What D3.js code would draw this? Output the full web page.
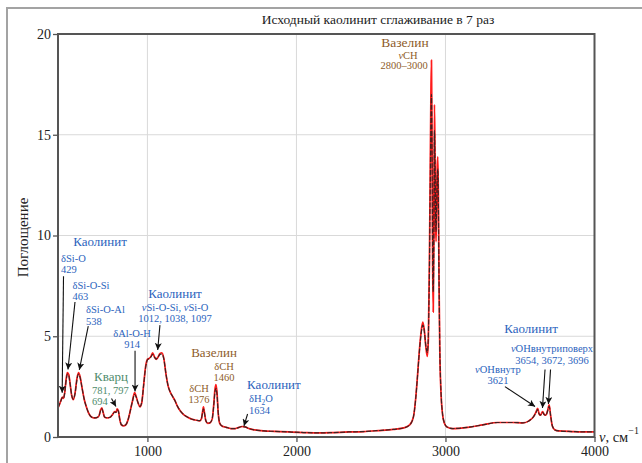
<!DOCTYPE html>
<html>
<head>
<meta charset="utf-8">
<script src="https://cdn.jsdelivr.net/npm/d3@7"></script>
<style>
  html, body { margin: 0; padding: 0; background: #fff; }
  svg { display: block; }
  text { font-family: "Liberation Serif", "DejaVu Serif", serif; }
</style>
</head>
<body>
<svg id="chart" width="642" height="463"></svg>
<script>
// IR spectrum of kaolinite: raw record and the 7-pass smoothed curve
const wavenumber = [
  400, 410, 420, 429, 437, 445, 455, 463, 472, 482, 492, 503, 515, 527, 538, 548, 560, 575, 590, 605,
  620, 640, 660, 675, 686, 694, 702, 713, 730, 750, 765, 781, 789, 797, 805, 815, 825, 840, 855, 870,
  885, 900, 914, 925, 937, 950, 962, 975, 988, 1000, 1012, 1024, 1035, 1046, 1058, 1070, 1085, 1097, 1110, 1125,
  1140, 1155, 1170, 1185, 1200, 1220, 1245, 1270, 1300, 1330, 1350, 1362, 1370, 1376, 1383, 1392, 1405, 1420, 1435, 1445,
  1453, 1460, 1467, 1475, 1485, 1500, 1530, 1560, 1590, 1615, 1634, 1655, 1680, 1720, 1780, 1850, 1950, 2050, 2150, 2250,
  2350, 2450, 2550, 2650, 2720, 2760, 2785, 2800, 2812, 2825, 2838, 2848, 2858, 2868, 2878, 2885, 2892, 2898, 2902, 2906,
  2910, 2914, 2918, 2922, 2926, 2930, 2934, 2937, 2941, 2945, 2949, 2953, 2957, 2962, 2970, 2980, 2992, 3010, 3050, 3150,
  3250, 3350, 3450, 3520, 3560, 3590, 3605, 3619, 3628, 3637, 3652, 3664, 3674, 3685, 3696, 3705, 3717, 3735, 3760, 3850,
  3950, 4000
];

const absorbanceRaw = [
  1.45, 1.62, 1.82, 1.98, 1.92, 2.2, 2.9, 3.2, 3.1, 2.6, 2.05, 1.85, 2.2, 2.9, 3.2, 3.0, 2.5, 1.9, 1.5, 1.2,
  1.02, 0.95, 0.96, 1.05, 1.35, 1.45, 1.25, 0.98, 0.95, 0.98, 1.1, 1.26, 1.22, 1.4, 1.3, 0.85, 0.6, 0.55, 0.6, 0.85,
  1.3, 1.8, 2.2, 2.0, 1.7, 1.5, 1.7, 2.6, 3.5, 3.85, 3.9, 4.0, 4.18, 4.0, 3.85, 3.95, 4.15, 4.18, 3.9, 3.1,
  2.5, 2.2, 2.0, 1.8, 1.55, 1.3, 1.1, 0.98, 0.88, 0.83, 0.8, 0.9, 1.25, 1.5, 1.2, 0.8, 0.68, 0.7, 0.9, 1.6,
  2.35, 2.6, 2.2, 1.2, 0.68, 0.55, 0.48, 0.42, 0.42, 0.48, 0.52, 0.5, 0.42, 0.35, 0.3, 0.28, 0.25, 0.22, 0.2, 0.22,
  0.25, 0.27, 0.32, 0.38, 0.45, 0.6, 1.0, 1.9, 3.0, 4.3, 5.3, 5.7, 5.3, 4.5, 4.0, 4.8, 8.5, 13.5, 16.8, 18.7,
  14.5, 8.5, 6.2, 9.5, 16.5, 14.0, 10.5, 9.7, 11.5, 13.5, 13.9, 11.5, 7.5, 4.3, 2.2, 1.15, 0.7, 0.5, 0.42, 0.48,
  0.6, 0.72, 0.72, 0.7, 0.8, 1.0, 1.2, 1.42, 1.15, 1.08, 1.26, 1.1, 1.08, 1.3, 1.6, 1.1, 0.55, 0.35, 0.3, 0.27,
  0.25, 0.25
];

const absorbanceSmoothed = [
  1.45, 1.62, 1.8, 1.95, 1.92, 2.18, 2.82, 3.12, 3.05, 2.6, 2.08, 1.88, 2.18, 2.84, 3.12, 2.96, 2.5, 1.9, 1.5, 1.2,
  1.02, 0.95, 0.96, 1.05, 1.3, 1.4, 1.24, 0.99, 0.95, 0.98, 1.1, 1.24, 1.22, 1.35, 1.28, 0.86, 0.62, 0.56, 0.61, 0.85,
  1.3, 1.78, 2.12, 1.98, 1.7, 1.52, 1.72, 2.6, 3.45, 3.82, 3.9, 3.98, 4.1, 3.98, 3.87, 3.95, 4.1, 4.12, 3.88, 3.1,
  2.5, 2.2, 2.0, 1.8, 1.55, 1.3, 1.1, 0.98, 0.88, 0.83, 0.81, 0.9, 1.2, 1.4, 1.18, 0.82, 0.69, 0.71, 0.92, 1.55,
  2.2, 2.42, 2.1, 1.22, 0.7, 0.55, 0.48, 0.42, 0.42, 0.48, 0.52, 0.5, 0.42, 0.35, 0.3, 0.28, 0.25, 0.22, 0.2, 0.22,
  0.25, 0.27, 0.32, 0.38, 0.45, 0.6, 1.0, 1.88, 2.98, 4.25, 5.2, 5.55, 5.25, 4.55, 4.2, 5.0, 8.2, 12.5, 15.5, 17.0,
  14.0, 9.0, 7.2, 9.8, 15.2, 13.6, 10.8, 10.2, 11.5, 13.0, 13.3, 11.2, 7.6, 4.4, 2.25, 1.18, 0.72, 0.5, 0.42, 0.48,
  0.6, 0.72, 0.72, 0.7, 0.8, 1.0, 1.18, 1.36, 1.15, 1.08, 1.22, 1.1, 1.08, 1.28, 1.52, 1.1, 0.56, 0.35, 0.3, 0.27,
  0.25, 0.25
];

const xTicks = [1000, 2000, 3000, 4000];
const yTicks = [0, 5, 10, 15, 20];

const chartTitle = "Исходный каолинит сглаживание в 7 раз";
const yTitle = "Поглощение";

// Band labels: x in cm⁻¹, y in absorbance units. *…* is italic, _…_ is subscript.
const bandLabels = [
  { text: "Каолинит", x: 682, y: 9.48, group: "kaolinite", size: 13, anchor: "middle" },
  { text: "δSi-O", x: 420, y: 8.67, group: "kaolinite", size: 10.5, anchor: "start" },
  { text: "429", x: 420, y: 8.12, group: "kaolinite", size: 10.5, anchor: "start" },
  { text: "δSi-O-Si", x: 497, y: 7.33, group: "kaolinite", size: 10.5, anchor: "start" },
  { text: "463", x: 497, y: 6.78, group: "kaolinite", size: 10.5, anchor: "start" },
  { text: "δSi-O-Al", x: 588, y: 6.13, group: "kaolinite", size: 10.5, anchor: "start" },
  { text: "538", x: 588, y: 5.58, group: "kaolinite", size: 10.5, anchor: "start" },

  { text: "Каолинит", x: 1185, y: 6.88, group: "kaolinite", size: 13, anchor: "middle" },
  { text: "*ν*Si-O-Si, *ν*Si-O", x: 1185, y: 6.27, group: "kaolinite", size: 10.5, anchor: "middle" },
  { text: "1012, 1038, 1097", x: 1185, y: 5.72, group: "kaolinite", size: 10.5, anchor: "middle" },
  { text: "δAl-O-H", x: 897, y: 4.97, group: "kaolinite", size: 10.5, anchor: "middle" },
  { text: "914", x: 897, y: 4.42, group: "kaolinite", size: 10.5, anchor: "middle" },

  { text: "Кварц", x: 756, y: 2.8, group: "quartz", size: 13, anchor: "middle" },
  { text: "781, 797", x: 628, y: 2.13, group: "quartz", size: 10.5, anchor: "start" },
  { text: "694", x: 628, y: 1.58, group: "quartz", size: 10.5, anchor: "start" },

  { text: "Вазелин", x: 1447, y: 3.97, group: "vaseline", size: 13, anchor: "middle" },
  { text: "δCH", x: 1514, y: 3.32, group: "vaseline", size: 10.5, anchor: "middle" },
  { text: "1460", x: 1514, y: 2.79, group: "vaseline", size: 10.5, anchor: "middle" },
  { text: "δCH", x: 1346, y: 2.25, group: "vaseline", size: 10.5, anchor: "middle" },
  { text: "1376", x: 1346, y: 1.7, group: "vaseline", size: 10.5, anchor: "middle" },

  { text: "Каолинит", x: 1849, y: 2.36, group: "kaolinite", size: 13, anchor: "middle" },
  { text: "δH_2_O", x: 1682, y: 1.72, group: "kaolinite", size: 10.5, anchor: "start" },
  { text: "1634", x: 1682, y: 1.12, group: "kaolinite", size: 10.5, anchor: "start" },

  { text: "Вазелин", x: 2728, y: 19.37, group: "vaseline", size: 13.5, anchor: "middle" },
  { text: "*ν*CH", x: 2749, y: 18.78, group: "vaseline", size: 10.5, anchor: "middle" },
  { text: "2800–3000", x: 2722, y: 18.24, group: "vaseline", size: 10.5, anchor: "middle" },

  { text: "Каолинит", x: 3574, y: 5.14, group: "kaolinite", size: 13, anchor: "middle" },
  { text: "*ν*OНвнутриповерх", x: 3715, y: 4.2, group: "kaolinite", size: 10.5, anchor: "middle" },
  { text: "3654, 3672, 3696", x: 3715, y: 3.64, group: "kaolinite", size: 10.5, anchor: "middle" },
  { text: "*ν*OНвнутр", x: 3352, y: 3.16, group: "kaolinite", size: 10.5, anchor: "middle" },
  { text: "3621", x: 3352, y: 2.61, group: "kaolinite", size: 10.5, anchor: "middle" }
];

// Pointer arrows: tail (x0, y0) to head (x1, y1), in cm⁻¹ and absorbance units
const bandArrows = [
  { x0: 437, y0: 7.98, x1: 428, y1: 2.2 },
  { x0: 514, y0: 6.7, x1: 467, y1: 3.35 },
  { x0: 603, y0: 5.5, x1: 543, y1: 3.33 },
  { x0: 917, y0: 4.28, x1: 917, y1: 2.26 },
  { x0: 1084, y0: 5.55, x1: 1069, y1: 4.32 },
  { x0: 759, y0: 1.91, x1: 789, y1: 1.51 },
  { x0: 1672, y0: 1.14, x1: 1648, y1: 0.55 },
  { x0: 3399, y0: 2.5, x1: 3601, y1: 1.51 },
  { x0: 3668, y0: 3.35, x1: 3651, y1: 1.44 },
  { x0: 3705, y0: 3.35, x1: 3691, y1: 1.64 }
];

const groupColor = { kaolinite: "#2b63bd", quartz: "#4f8c6c", vaseline: "#8e5c2a" };

const svg = d3.select("#chart");
const W = 642, H = 463;
const plot = { left: 58, right: 594.5, top: 34, bottom: 437 };

const x = d3.scaleLinear().domain([400, 4000]).range([plot.left, plot.right]);
const y = d3.scaleLinear().domain([0, 20]).range([plot.bottom, plot.top]);

// outer page frame
svg.append("line").attr("x1", 6).attr("x2", W).attr("y1", 8).attr("y2", 8)
  .attr("stroke", "#a3a3a3").attr("stroke-width", 2);
svg.append("line").attr("x1", 7).attr("x2", 7).attr("y1", 8).attr("y2", H)
  .attr("stroke", "#a3a3a3").attr("stroke-width", 2);

// title
svg.append("text").attr("x", 378).attr("y", 24).attr("text-anchor", "middle")
  .attr("font-size", 13.5).attr("fill", "#222").text(chartTitle);

// grid
const grid = svg.append("g").attr("stroke", "#d9d9d9").attr("stroke-width", 1);
grid.selectAll("line.v").data(xTicks.filter(d => d < 4000)).join("line")
  .attr("x1", d => x(d)).attr("x2", d => x(d)).attr("y1", plot.top).attr("y2", plot.bottom);
grid.selectAll("line.h").data(yTicks.filter(d => d > 0 && d < 20)).join("line")
  .attr("x1", plot.left).attr("x2", plot.right).attr("y1", d => y(d)).attr("y2", d => y(d));

// spectrum
const rows = wavenumber.map((w, i) => ({ w, raw: absorbanceRaw[i], sm: absorbanceSmoothed[i] }));
const lineRaw = d3.line().x(d => x(d.w)).y(d => y(d.raw)).curve(d3.curveMonotoneX);
const lineSm = d3.line().x(d => x(d.w)).y(d => y(d.sm)).curve(d3.curveMonotoneX);

svg.append("path").datum(rows).attr("d", lineRaw)
  .attr("fill", "none").attr("stroke", "#ff1a1a").attr("stroke-width", 1.7)
  .attr("stroke-linejoin", "round");
svg.append("path").datum(rows).attr("d", lineSm)
  .attr("fill", "none").attr("stroke", "#2e2020").attr("stroke-width", 1.2)
  .attr("stroke-dasharray", "5,1.5").attr("stroke-opacity", 0.9);

// axes
const fontAxis = 14;
const yAxis = svg.append("g").attr("transform", `translate(${plot.left},0)`)
  .call(d3.axisLeft(y).tickValues(yTicks).tickSize(5).tickPadding(2).tickFormat(d3.format("d")));
const xAxis = svg.append("g").attr("transform", `translate(0,${plot.bottom})`)
  .call(d3.axisBottom(x).tickValues(xTicks).tickSize(5).tickPadding(4).tickFormat(d3.format("d")));
[yAxis, xAxis].forEach(g => {
  g.attr("font-family", "Liberation Serif, serif");
  g.select(".domain").remove();
  g.selectAll(".tick line").attr("stroke", "#555").attr("stroke-width", 1.3);
  g.selectAll(".tick text").attr("font-size", fontAxis).attr("fill", "#222");
});

// plot frame
svg.append("rect").attr("x", plot.left).attr("y", plot.top)
  .attr("width", plot.right - plot.left).attr("height", plot.bottom - plot.top)
  .attr("fill", "none").attr("stroke", "#555").attr("stroke-width", 2);

// axis titles
svg.append("text").attr("transform", `translate(28,${(plot.top + plot.bottom) / 2 + 2}) rotate(-90)`)
  .attr("text-anchor", "middle").attr("font-size", 15).attr("fill", "#222").text(yTitle);

const xt = svg.append("text").attr("x", 599).attr("y", 441.5).attr("font-size", 14.5).attr("fill", "#222");
xt.append("tspan").attr("font-style", "italic").text("ν");
xt.append("tspan").text(", см");
xt.append("tspan").attr("dy", -8).attr("font-size", 10).text("−1");

// arrows
const defs = svg.append("defs");
defs.append("marker").attr("id", "head").attr("viewBox", "0 0 10 10")
  .attr("refX", 10).attr("refY", 5).attr("markerWidth", 7).attr("markerHeight", 7)
  .attr("markerUnits", "userSpaceOnUse").attr("orient", "auto")
  .append("path").attr("d", "M0,0 L10,5 L0,10 L2.5,5 Z").attr("fill", "#111");

svg.append("g").selectAll("line").data(bandArrows).join("line")
  .attr("x1", d => x(d.x0)).attr("y1", d => y(d.y0))
  .attr("x2", d => x(d.x1)).attr("y2", d => y(d.y1))
  .attr("stroke", "#111").attr("stroke-width", 1.1).attr("marker-end", "url(#head)");

// band labels with italic / subscript runs
function addRuns(sel, str, size) {
  const parts = str.split(/(\*[^*]+\*|_[^_]+_)/).filter(s => s.length);
  let shifted = false;
  parts.forEach(p => {
    const t = sel.append("tspan");
    if (shifted) { t.attr("dy", -2.5); shifted = false; }
    if (p.startsWith("*")) {
      t.attr("font-style", "italic").text(p.slice(1, -1));
    } else if (p.startsWith("_")) {
      t.attr("font-size", size * 0.7).attr("dy", 2.5).text(p.slice(1, -1));
      shifted = true;
    } else {
      t.text(p);
    }
  });
}

svg.append("g").selectAll("text").data(bandLabels).join("text")
  .attr("x", d => x(d.x)).attr("y", d => y(d.y))
  .attr("text-anchor", d => d.anchor).attr("font-size", d => d.size)
  .attr("fill", d => groupColor[d.group])
  .each(function (d) { addRuns(d3.select(this), d.text, d.size); });
</script>
</body>
</html>
